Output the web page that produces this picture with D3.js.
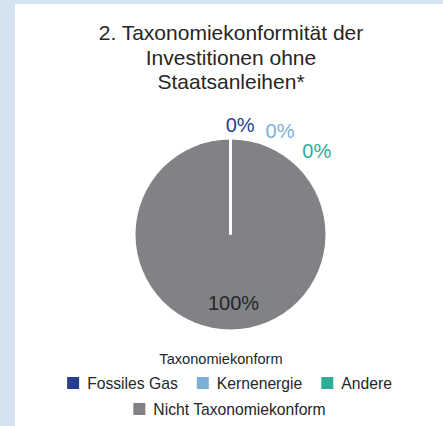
<!DOCTYPE html>
<html>
<head>
<meta charset="utf-8">
<script src="https://cdn.jsdelivr.net/npm/d3@7"></script>
<style>
  body { margin: 0; }
  text { font-family: "Liberation Sans", Arial, sans-serif; }
</style>
</head>
<body>
<svg id="chart"></svg>
<script>
// data
const categories = ["Fossiles Gas", "Kernenergie", "Andere", "Nicht Taxonomiekonform"];
const values = [0, 0, 0, 100];
const colors = ["#253f8e", "#7bafd6", "#2fae96", "#808285"];
const titleLines = ["2. Taxonomiekonformität der", "Investitionen ohne", "Staatsanleihen*"];
const legendTitle = "Taxonomiekonform";

const width = 443, height = 426;
const cx = 230.5, cy = 234.5, radius = 95;

const svg = d3.select("#chart").attr("width", width).attr("height", height);

svg.append("rect").attr("width", width).attr("height", height).attr("fill", "#d5e3f0");
svg.append("rect").attr("x", 15).attr("y", 4).attr("width", width - 15).attr("height", height - 4).attr("fill", "#fff");

// title
svg.append("g").selectAll("text")
  .data(titleLines)
  .join("text")
    .attr("x", 231)
    .attr("y", (d, i) => 40 + i * 24.5)
    .attr("text-anchor", "middle")
    .attr("font-size", 21)
    .attr("fill", "#262626")
    .text(d => d);

// pie
const pie = d3.pie().sort(null).value(d => d);
const arcs = pie(values);
const arc = d3.arc().innerRadius(0).outerRadius(radius);

const g = svg.append("g").attr("transform", `translate(${cx},${cy})`);

// big slice first, zero slices on top so their edge line shows
g.selectAll("path")
  .data(arcs.slice().reverse())
  .join("path")
    .attr("d", arc)
    .attr("fill", d => colors[d.index])
    .attr("stroke", "#fff")
    .attr("stroke-width", d => d.value === 0 ? 3 : 0);

// labels
arcs.forEach((d, i) => {
  const pct = Math.round(d.value / d3.sum(values) * 100) + "%";
  let x, y, col;
  if (d.value === 0) {
    // zero slices: labels spread outside the pie
    const a = (5 + i * 20.5) * Math.PI / 180;
    const r = 110 + i * 5;
    x = Math.sin(a) * r;
    y = -Math.cos(a) * r;
    col = colors[i];
  } else {
    const a = (d.startAngle + d.endAngle) / 2;
    const r = radius * 0.72;
    x = Math.sin(a) * r + 3;
    y = -Math.cos(a) * r;
    col = "#262626";
  }
  g.append("text")
    .attr("x", x)
    .attr("y", y)
    .attr("dy", "0.35em")
    .attr("text-anchor", "middle")
    .attr("font-size", 20)
    .attr("fill", col)
    .text(pct);
});

// legend
svg.append("text")
  .attr("x", 221)
  .attr("y", 364)
  .attr("text-anchor", "middle")
  .attr("font-size", 14.6)
  .attr("fill", "#262626")
  .text(legendTitle);

const rows = [[0, 1, 2], [3]];
const rowY = [389, 415];
const box = 12, boxGap = 8, itemGap = 19;

rows.forEach((row, ri) => {
  const lg = svg.append("g");
  let xPos = 0;
  row.forEach(i => {
    const item = lg.append("g").attr("transform", `translate(${xPos},0)`);
    item.append("rect")
      .attr("x", 0).attr("y", -12)
      .attr("width", box).attr("height", box)
      .attr("fill", colors[i]);
    const t = item.append("text")
      .attr("x", box + boxGap)
      .attr("y", 0)
      .attr("font-size", 15.7)
      .attr("fill", "#262626")
      .text(categories[i]);
    xPos += box + boxGap + t.node().getComputedTextLength() + itemGap;
  });
  const total = xPos - itemGap;
  lg.attr("transform", `translate(${229.5 - total / 2},${rowY[ri]})`);
});
</script>
</body>
</html>
